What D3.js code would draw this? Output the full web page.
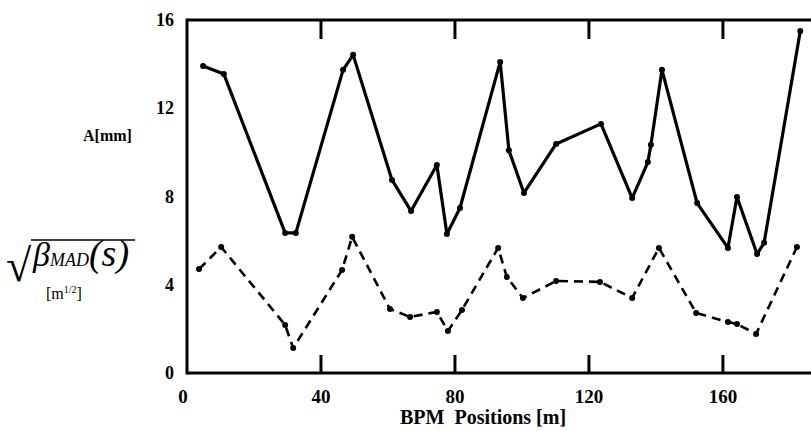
<!DOCTYPE html>
<html>
<head>
<meta charset="utf-8">
<script src="https://cdn.jsdelivr.net/npm/d3@7"></script>
<style>
  body { margin: 0; background: #fff; }
  svg { display: block; }
</style>
</head>
<body>
<svg id="chart" width="811" height="431"></svg>
<script>
// Solid line: A [mm]
const solidX = [4.8, 11.0, 29.3, 32.5, 46.6, 49.6, 61.2, 66.9, 74.6, 77.6, 81.5, 93.5, 96.1, 100.6, 110.2, 123.6, 132.9, 137.6, 138.5, 141.8, 152.3, 161.5, 164.2, 170.2, 172.3, 183.1];
const solidY = [13.92, 13.55, 6.35, 6.35, 13.74, 14.42, 8.75, 7.34, 9.43, 6.3, 7.48, 14.1, 10.1, 8.16, 10.38, 11.29, 7.93, 9.56, 10.34, 13.74, 7.7, 5.67, 7.98, 5.39, 5.9, 15.5];
// Dashed line: sqrt(beta_MAD(s)) [m^1/2]
const dashX = [3.6, 10.2, 29.3, 31.7, 46.3, 49.3, 60.6, 66.6, 74.6, 77.9, 82.1, 92.9, 95.5, 100.3, 110.2, 123.3, 132.9, 140.9, 152.0, 161.5, 164.2, 169.9, 182.1];
const dashY = [4.71, 5.71, 2.18, 1.13, 4.67, 6.17, 2.9, 2.54, 2.77, 1.9, 2.86, 5.67, 4.35, 3.4, 4.17, 4.13, 3.4, 5.67, 2.72, 2.31, 2.22, 1.77, 5.71];
const xTicks = [0, 40, 80, 120, 160];
const yTicks = [0, 4, 8, 12, 16];
const xDomain = [0, 186];
const yDomain = [0, 16];

const FONT = "'Liberation Serif', 'DejaVu Serif', serif";
const svg = d3.select("#chart").attr("font-family", FONT);
const pL = 187, pR = 810, pT = 20, pB = 373;
const x = d3.scaleLinear().domain(xDomain).range([pL, pR]);
const y = d3.scaleLinear().domain(yDomain).range([pB, pT]);

// axes frame lines
const g = svg.append("g");
g.append("line").attr("x1", pL).attr("x2", 811).attr("y1", pB).attr("y2", pB)
  .attr("stroke", "#000").attr("stroke-width", 3);
g.append("line").attr("x1", pL).attr("x2", 811).attr("y1", pT).attr("y2", pT)
  .attr("stroke", "#000").attr("stroke-width", 3);
g.append("line").attr("x1", pL).attr("x2", pL).attr("y1", pT - 1.5).attr("y2", pB + 1.5)
  .attr("stroke", "#000").attr("stroke-width", 3);

// x ticks (inward, bottom and top)
xTicks.filter(d => d > 0).forEach(d => {
  g.append("line").attr("x1", x(d)).attr("x2", x(d)).attr("y1", pB).attr("y2", pB - 18)
    .attr("stroke", "#000").attr("stroke-width", 3);
  g.append("line").attr("x1", x(d)).attr("x2", x(d)).attr("y1", pT).attr("y2", pT + 19)
    .attr("stroke", "#000").attr("stroke-width", 3);
});

// x tick labels
g.selectAll(".xl").data(xTicks).enter().append("text")
  .attr("font-family", FONT)
  .attr("x", d => x(d) + (d === 0 ? -4 : 0)).attr("y", 403)
  .attr("text-anchor", "middle").attr("font-size", 19).attr("font-weight", "bold")
  .text(d => d);

// y tick labels
g.selectAll(".yl").data(yTicks).enter().append("text")
  .attr("font-family", FONT)
  .attr("x", 174).attr("y", d => y(d) + 6)
  .attr("text-anchor", "end").attr("font-size", 18).attr("font-weight", "bold")
  .text(d => d);

// lines
const solid = solidX.map((v, i) => [v, solidY[i]]);
const dashed = dashX.map((v, i) => [v, dashY[i]]);
const line = d3.line().x(d => x(d[0])).y(d => y(d[1]));

svg.append("path").datum(solid).attr("d", line)
  .attr("fill", "none").attr("stroke", "#000").attr("stroke-width", 3.2).attr("stroke-linejoin", "round");
svg.selectAll(".sp").data(solid).enter().append("circle")
  .attr("cx", d => x(d[0])).attr("cy", d => y(d[1])).attr("r", 3).attr("fill", "#000");

svg.append("path").datum(dashed).attr("d", line)
  .attr("fill", "none").attr("stroke", "#000").attr("stroke-width", 2.6)
  .attr("stroke-dasharray", "9,6").attr("stroke-linejoin", "round");
svg.selectAll(".dp").data(dashed).enter().append("circle")
  .attr("cx", d => x(d[0])).attr("cy", d => y(d[1])).attr("r", 3).attr("fill", "#000");

// labels
svg.append("text").attr("font-family", FONT).attr("x", 83).attr("y", 141)
  .attr("font-size", 16).attr("font-weight", "bold").text("A[mm]");

svg.append("text").attr("font-family", FONT).attr("x", 400).attr("y", 424)
  .attr("font-size", 20).attr("font-weight", "bold")
  .attr("xml:space", "preserve").style("white-space", "pre").text("BPM  Positions [m]");

// sqrt(beta_MAD(s)) label
svg.append("text").attr("font-family", FONT).attr("x", 6).attr("y", 281).attr("font-size", 46).text("√");
svg.append("line").attr("x1", 31).attr("x2", 135).attr("y1", 240).attr("y2", 240)
  .attr("stroke", "#000").attr("stroke-width", 1.5);
const bl = svg.append("text").attr("font-family", FONT).attr("x", 33).attr("y", 266).attr("font-style", "italic");
bl.append("tspan").attr("font-size", 34).text("β");
bl.append("tspan").attr("font-size", 18).text("MAD");
bl.append("tspan").attr("font-size", 38).text("(s)");

const ml = svg.append("text").attr("font-family", FONT).attr("x", 46).attr("y", 299).attr("font-size", 16);
ml.append("tspan").text("[m");
ml.append("tspan").attr("font-size", 10).attr("dy", -6).text("1/2");
ml.append("tspan").attr("dy", 6).text("]");
</script>
</body>
</html>
